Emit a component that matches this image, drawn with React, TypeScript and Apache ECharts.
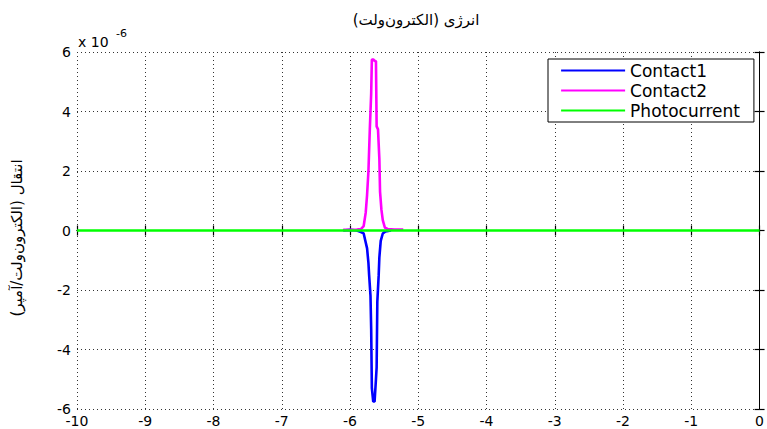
import React, { useEffect, useRef } from "react";
import * as echarts from "echarts";

// Energy axis (eV) and transmission values (in units of 1e-6)
const energyTicks = [-10, -9, -8, -7, -6, -5, -4, -3, -2, -1, 0];

const contact1Energy = [
  -6.1, -6.0, -5.9, -5.84, -5.8, -5.78, -5.75, -5.73, -5.72, -5.7, -5.69, -5.68,
  -5.66, -5.64, -5.62, -5.61, -5.6, -5.58, -5.57, -5.55, -5.52, -5.48, -5.4,
];
const contact1Values = [
  0.0, 0.02, 0.0, -0.05, -0.1, -0.3, -0.6, -1.1, -1.5, -2.2, -3.3, -5.3,
  -5.75, -5.75, -5.0, -4.6, -2.4, -1.5, -0.9, -0.35, -0.1, -0.03, 0.0,
];

const contact2Energy = [
  -6.1, -6.0, -5.9, -5.84, -5.8, -5.77, -5.75, -5.73, -5.71, -5.69, -5.68, -5.66,
  -5.64, -5.62, -5.61, -5.59, -5.57, -5.56, -5.54, -5.52, -5.49, -5.45, -5.35, -5.22,
];
const contact2Values = [
  0.02, 0.02, 0.03, 0.05, 0.15, 0.6, 1.2, 2.0, 3.4, 4.6, 5.75, 5.75,
  5.7, 5.7, 3.5, 3.4, 2.4, 1.3, 0.7, 0.35, 0.1, 0.05, 0.03, 0.03,
];

const photocurrentEnergy = [-10, 0];
const photocurrentValues = [0, 0];

const seriesNames = ["Contact1", "Contact2", "Photocurrent"];
const seriesColors = ["#0000ff", "#ff00ff", "#00ff00"];

const titleText = "انرژی (الکترون\u200cولت)\u200f";
const yLabelText = "انتقال (الکترون\u200cولت/آمپر)\u200f";

const zip = (xs: number[], ys: number[]) => xs.map((x, i) => [x, ys[i]]);

const tickFont = "DejaVu Sans";

export default function App() {
  const ref = useRef<HTMLDivElement>(null);

  useEffect(() => {
    if (!ref.current) return;
    const chart = echarts.init(ref.current, undefined, { renderer: "svg" });

    const dotted = { type: [1, 3] as any, color: "#333", width: 1 };
    const axisLine = { show: true, lineStyle: { color: "#000", width: 1 } };
    const tick = { show: true, inside: true, length: 5, lineStyle: { color: "#000", width: 1.2 } };
    const lineWidth = 2.6;

    chart.setOption({
      animation: false,
      backgroundColor: "#ffffff",
      grid: { left: 77, right: 2, top: 52, bottom: 20, containLabel: false },
      xAxis: [
        {
          type: "value",
          min: energyTicks[0],
          max: energyTicks[energyTicks.length - 1],
          interval: 1,
          axisLine,
          axisTick: tick,
          axisLabel: { color: "#000", fontFamily: tickFont, fontSize: 14, margin: 5 },
          splitLine: { show: true, lineStyle: dotted },
        },
        {
          type: "value",
          position: "top",
          min: energyTicks[0],
          max: energyTicks[energyTicks.length - 1],
          interval: 1,
          axisLine,
          axisTick: tick,
          axisLabel: { show: false },
          splitLine: { show: false },
        },
      ],
      yAxis: [
        {
          type: "value",
          min: -6,
          max: 6,
          interval: 2,
          axisLine,
          axisTick: tick,
          axisLabel: {
            color: "#000",
            fontFamily: tickFont,
            fontSize: 14,
            margin: 6,
            verticalAlign: "middle",
            padding: [0, 0, 3, 0],
          },
          splitLine: { show: true, lineStyle: dotted },
        },
        {
          type: "value",
          position: "right",
          min: -6,
          max: 6,
          interval: 2,
          axisLine,
          axisTick: tick,
          axisLabel: { show: false },
          splitLine: { show: false },
        },
      ],
      legend: {
        show: true,
        orient: "vertical",
        left: 548,
        top: 59,
        data: seriesNames,
        backgroundColor: "#ffffff",
        borderColor: "#000",
        borderWidth: 1,
        borderRadius: 0,
        padding: [3, 14, 3, 12],
        itemGap: 3,
        itemWidth: 64,
        itemHeight: 14,
        itemStyle: { opacity: 0 },
        lineStyle: { width: 2.2 },
        textStyle: { color: "#000", fontFamily: tickFont, fontSize: 17, lineHeight: 17 },
      },
      series: [
        {
          name: seriesNames[0],
          type: "line",
          data: zip(contact1Energy, contact1Values),
          symbol: "none",
          lineStyle: { color: seriesColors[0], width: lineWidth },
          itemStyle: { color: seriesColors[0] },
        },
        {
          name: seriesNames[1],
          type: "line",
          data: zip(contact2Energy, contact2Values),
          symbol: "none",
          lineStyle: { color: seriesColors[1], width: lineWidth },
          itemStyle: { color: seriesColors[1] },
        },
        {
          name: seriesNames[2],
          type: "line",
          data: zip(photocurrentEnergy, photocurrentValues),
          symbol: "none",
          lineStyle: { color: seriesColors[2], width: lineWidth },
          itemStyle: { color: seriesColors[2] },
        },
      ],
      graphic: [
        {
          type: "text",
          x: 416,
          y: 20,
          style: {
            text: titleText,
            fontFamily: "DejaVu Sans",
            fontSize: 15,
            fill: "#000",
            align: "center",
            verticalAlign: "middle",
          },
        },
        {
          type: "text",
          x: 17,
          y: 238,
          rotation: Math.PI / 2,
          style: {
            text: yLabelText,
            fontFamily: "DejaVu Sans",
            fontSize: 15,
            fill: "#000",
            align: "center",
            verticalAlign: "middle",
          },
        },
        {
          type: "text",
          x: 78,
          y: 42,
          style: {
            text: "x 10",
            fontFamily: tickFont,
            fontSize: 14,
            fill: "#000",
            align: "left",
            verticalAlign: "middle",
          },
        },
        {
          type: "text",
          x: 116,
          y: 33,
          style: {
            text: "-6",
            fontFamily: tickFont,
            fontSize: 11,
            fill: "#000",
            align: "left",
            verticalAlign: "middle",
          },
        },
      ],
    });

    return () => chart.dispose();
  }, []);

  return (
    <div
      ref={ref}
      style={{ position: "fixed", left: 0, top: 0, width: 767, height: 429, background: "#fff" }}
    />
  );
}
